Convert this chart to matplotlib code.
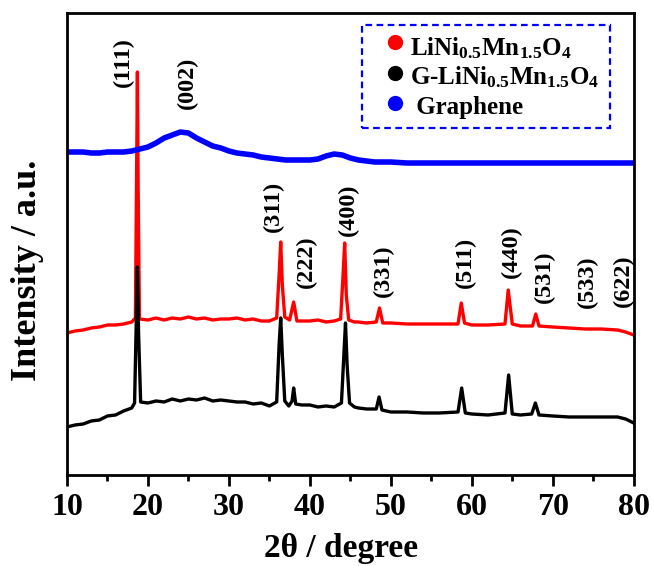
import matplotlib
matplotlib.use("Agg")
import matplotlib.pyplot as plt
from matplotlib.patches import Rectangle
from matplotlib.ticker import MultipleLocator

plt.rcParams['font.family'] = ['Liberation Serif', 'DejaVu Serif']
plt.rcParams['font.weight'] = 'bold'
plt.rcParams['mathtext.fontset'] = 'custom'
plt.rcParams['mathtext.rm'] = 'Liberation Serif:bold'
plt.rcParams['mathtext.it'] = 'Liberation Serif:bold'
plt.rcParams['mathtext.bf'] = 'Liberation Serif:bold'

# ---------------- data ----------------
# G-LiNi0.5Mn1.5O4 (black)
g_x = [10, 11, 12, 13, 14, 15, 16, 17, 18, 18.35, 18.55, 18.7, 18.85, 19.1, 20, 21, 22, 23, 24,
       25, 26, 27, 28, 29, 30, 31, 32, 33, 34, 35, 35.9, 36.2, 36.4, 36.6, 36.9, 37.4, 37.8,
       38.0, 38.25, 39, 40, 41, 42, 43, 43.9, 44.2, 44.4, 44.6, 44.9, 45.5, 46, 47, 48.2,
       48.55, 48.9, 50, 52, 54, 56, 58.3, 58.75, 59.2, 60, 62, 64.1, 64.55, 65.0, 66, 67.4,
       67.85, 68.3, 70, 72, 74, 76, 78, 79, 80]
g_y = [48, 50, 51, 54, 55, 59, 60, 64, 67, 72, 150, 208, 140, 73, 72, 74, 73, 76, 74,
       76, 75, 77, 74, 75, 74, 73, 73, 71, 72, 69, 73, 130, 157, 120, 74, 69, 74,
       87, 71, 70, 70, 68, 69, 68, 72, 120, 152, 110, 72, 68, 67, 66, 66,
       78, 65, 63, 63, 62, 62, 63, 87, 62, 61, 60, 62, 100, 61, 60, 61,
       72, 60, 59, 58, 58, 58, 58, 56, 52]

# LiNi0.5Mn1.5O4 (red)
l_x = [10, 11, 12, 13, 14, 15, 16, 17, 18, 18.45, 18.6, 18.7, 18.8, 18.95, 20, 21, 22, 23, 24,
       25, 26, 27, 28, 29, 30, 31, 32, 33, 34, 35, 35.9, 36.2, 36.4, 36.6, 36.9, 37.5,
       38.0, 38.4, 39, 40, 41, 42, 43, 43.8, 44.1, 44.3, 44.5, 44.8, 45.5, 46, 47, 48.2,
       48.6, 49.0, 50, 52, 54, 56, 58.3, 58.7, 59.1, 60, 62, 64.1, 64.5, 65.0, 66, 67.5,
       67.9, 68.3, 70, 72, 74, 76, 78, 79, 80]
l_y = [142, 144, 145, 147, 148, 150, 150, 151, 153, 157, 300, 403, 280, 156, 155, 157, 155, 157, 156,
       158, 156, 157, 155, 156, 156, 157, 155, 156, 154, 154, 157, 200, 233, 190, 158, 155,
       173, 154, 154, 154, 155, 153, 154, 156, 200, 232, 180, 155, 153, 153, 152, 153,
       167, 152, 152, 151, 151, 151, 151, 172, 152, 150, 150, 151, 185, 151, 149, 149,
       161, 149, 148, 147, 146, 146, 145, 143, 140]

# Graphene (blue)
r_x = [10, 11, 12, 13, 14, 15, 16, 17, 18, 19, 20, 21, 22, 23, 24, 25, 26, 27, 28, 29, 30,
       31, 32, 33, 34, 35, 36, 37, 38, 39, 40, 41, 42, 43, 44, 45, 46, 47, 48, 50, 52,
       55, 58, 60, 62, 65, 68, 70, 72, 75, 78, 80]
r_y = [323, 323, 323, 322, 322, 323, 323, 323, 324, 326, 328, 332, 337, 340, 343, 342, 337, 333, 329,
       327, 324, 322, 321, 320, 318, 317, 316, 315, 315, 315, 315, 316, 319, 321, 320, 317, 315,
       314, 313, 313, 312, 312, 312, 312, 312, 312, 312, 312, 312, 312, 312, 312]

# reflection labels: (text, x position, bottom of label)
hkl_labels = ['(111)', '(002)', '(311)', '(222)', '(400)', '(331)',
              '(511)', '(440)', '(531)', '(533)', '(622)']
hkl_x = [16.9, 24.9, 35.5, 39.6, 44.8, 49.1, 59.2, 64.9, 69.0, 74.3, 78.7]
hkl_y = [388, 366, 243, 187, 239, 178, 187, 197, 172, 167, 168]

legend_labels = [r'LiNi$_{0.5}$Mn$_{1.5}$O$_4$', r'G-LiNi$_{0.5}$Mn$_{1.5}$O$_4$', ' Graphene']
legend_colors = ['#ff0000', '#000000', '#0000ff']

xticks = [10, 20, 30, 40, 50, 60, 70, 80]

# ---------------- figure ----------------
fig = plt.figure(figsize=(6.54, 5.66), dpi=100)
ax = fig.add_axes([0.1024, 0.1608, 0.8666, 0.8162])

ax.plot(g_x, g_y, color='#000000', lw=2.4, zorder=3)
ax.plot(l_x, l_y, color='#ff0000', lw=2.4, zorder=2)
ax.plot(r_x, r_y, color='#0000ff', lw=4.0, zorder=2)

for t, x, y in zip(hkl_labels, hkl_x, hkl_y):
    ax.text(x, y, t, rotation=90, ha='center', va='bottom', fontsize=17.5,
            fontweight='bold')

ax.set_xlim(10, 80)
ax.set_ylim(0, 462)
ax.set_xticks(xticks)
ax.xaxis.set_minor_locator(MultipleLocator(5))
ax.set_yticks([])
ax.tick_params(axis='x', which='major', direction='out', length=8, width=2,
               labelsize=23, pad=5)
ax.tick_params(axis='x', which='minor', direction='out', length=4, width=2)
for lab in ax.get_xticklabels():
    lab.set_fontweight('bold')
for s in ax.spines.values():
    s.set_linewidth(2.0)

ax.set_xlabel('2θ / degree', fontsize=24, fontweight='bold')
ax.xaxis.set_label_coords(0.484, -0.125)
ax.set_ylabel('Intensity / a.u.', fontsize=26, fontweight='bold')
ax.yaxis.set_label_coords(-0.04, 0.444)

# legend box (dashed)
box = Rectangle((0.521, 0.751), 0.438, 0.223, transform=ax.transAxes, fill=False,
                edgecolor='#0000ff', lw=1.6, linestyle=(0, (3, 2)), zorder=5)
ax.add_patch(box)
mk_y = [0.937, 0.870, 0.805]
tx_y = [0.909, 0.845, 0.782]
for lab, c, my, ty in zip(legend_labels, legend_colors, mk_y, tx_y):
    ax.plot([0.578], [my], 'o', color=c, ms=10, transform=ax.transAxes, zorder=6)
    ax.text(0.606, ty, lab, transform=ax.transAxes, fontsize=18, fontweight='bold',
            va='baseline', ha='left', zorder=6)

fig.savefig('out.png', dpi=100)
